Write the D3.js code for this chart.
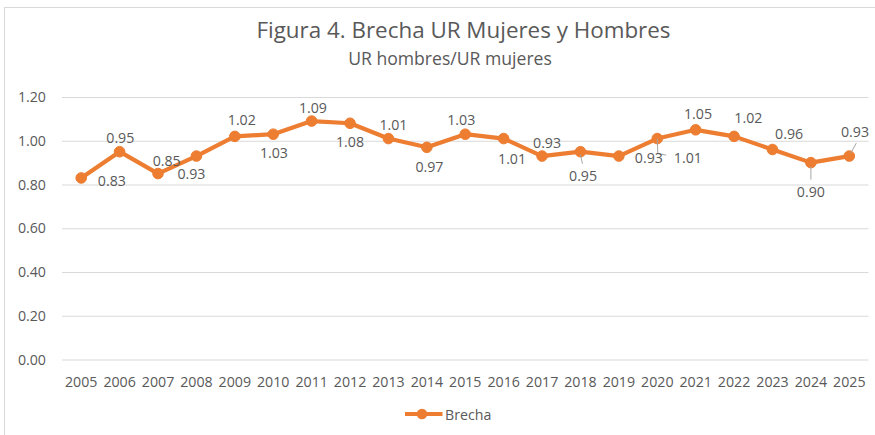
<!DOCTYPE html>
<html>
<head>
<meta charset="utf-8">
<script src="https://cdn.jsdelivr.net/npm/d3@7"></script>
<style>
  html, body { margin: 0; padding: 0; background: #ffffff; }
  svg { display: block; }
  text { font-family: "Open Sans", sans-serif; fill: #595959; }
</style>
</head>
<body>
<svg id="chart" width="875" height="435"></svg>
<script>
// ---- data ----
const years = ["2005","2006","2007","2008","2009","2010","2011","2012","2013","2014","2015",
               "2016","2017","2018","2019","2020","2021","2022","2023","2024","2025"];
const brecha = [0.83,0.95,0.85,0.93,1.02,1.03,1.09,1.08,1.01,0.97,1.03,
                1.01,0.93,0.95,0.93,1.01,1.05,1.02,0.96,0.90,0.93];
const yTicks = [0, 0.2, 0.4, 0.6, 0.8, 1.0, 1.2];
const seriesName = "Brecha";
const titleText = "Figura 4. Brecha UR Mujeres y Hombres";
const subtitleText = "UR hombres/UR mujeres";

// ---- layout (label placement offsets, px, relative to point) ----
const labelDx = [30.7,0.7,8.7,-5,7,0.7,1.3,0,5,2.6,-4,8.4,5,2.6,30,30.6,2.3,14.3,16.6,0,5.7];
const labelDy = [2.7,-13.3,-12.3,17.6,-16.7,19,-13.3,19,-13.3,20,-14.3,20,-12.7,24.3,2.3,19,-15.7,-18.3,-15.7,29,-24];
const leaders = {
  13: [[0,3],[2,12]],
  15: [[0,0],[0.5,15],[9,16.5]],
  19: [[0,4],[0,17]],
  20: [[1.5,-3],[7,-13]]
};

const ORANGE = "#ED7D31";
const GRID = "#D9D9D9";
const svg = d3.select("#chart");

// frame
svg.append("rect").attr("x", 4.5).attr("y", 7.5).attr("width", 900).attr("height", 500)
  .attr("fill", "#fff").attr("stroke", "#D9D9D9").attr("stroke-width", 1);

const plot = { left: 62, right: 868.5, top: 97, bottom: 359.5 };

const x = d3.scaleBand().domain(years).range([plot.left, plot.right]).padding(0);
const y = d3.scaleLinear().domain([0, 1.2]).range([plot.bottom, plot.top]);
const cx = d => x(d) + x.bandwidth() / 2;

// title
svg.append("text").attr("x", 463.5).attr("y", 38).attr("text-anchor", "middle")
  .style("font-size", "22.4px").text(titleText);
svg.append("text").attr("x", 450).attr("y", 64.5).attr("text-anchor", "middle")
  .style("font-size", "17.6px").text(subtitleText);

// y axis (gridlines + labels)
const yAxis = d3.axisLeft(y).tickValues(yTicks).tickFormat(d3.format(".2f"))
  .tickSize(-(plot.right - plot.left)).tickPadding(16);
const gy = svg.append("g").attr("transform", `translate(${plot.left},0)`).call(yAxis);
gy.select(".domain").remove();
gy.selectAll(".tick line").attr("stroke", GRID).attr("stroke-width", 1);
gy.selectAll(".tick text").style("font-size", "14.2px").attr("fill", "#595959")
  .attr("font-family", "Open Sans");

// x axis labels
const xAxis = d3.axisBottom(x).tickSize(0).tickPadding(17);
const gx = svg.append("g").attr("transform", `translate(0,${plot.bottom})`).call(xAxis);
gx.select(".domain").remove();
gx.selectAll(".tick text").style("font-size", "14.2px").attr("fill", "#595959")
  .attr("font-family", "Open Sans");

// line
const line = d3.line().x((d, i) => cx(years[i])).y(d => y(d));
svg.append("path").datum(brecha).attr("d", line)
  .attr("fill", "none").attr("stroke", ORANGE).attr("stroke-width", 4.2)
  .attr("stroke-linejoin", "round").attr("stroke-linecap", "round");

// markers
svg.append("g").selectAll("circle").data(brecha).join("circle")
  .attr("cx", (d, i) => cx(years[i])).attr("cy", d => y(d)).attr("r", 5.3)
  .attr("fill", ORANGE).attr("stroke", ORANGE).attr("stroke-width", 1);

// leader lines
Object.entries(leaders).forEach(([k, pts]) => {
  const i = +k;
  const px = cx(years[i]), py = y(brecha[i]);
  svg.append("path")
    .attr("d", d3.line()(pts.map(p => [px + p[0], py + p[1]])))
    .attr("fill", "none").attr("stroke", "#A6A6A6").attr("stroke-width", 1);
});

// data labels
svg.append("g").selectAll("text").data(brecha).join("text")
  .attr("x", (d, i) => cx(years[i]) + labelDx[i])
  .attr("y", (d, i) => y(d) + labelDy[i] + 5)
  .attr("text-anchor", "middle")
  .style("font-size", "14.2px")
  .text(d => d3.format(".2f")(d));

// legend
const lg = svg.append("g").attr("transform", "translate(405,414)");
lg.append("line").attr("x1", 0).attr("x2", 37.5).attr("y1", 0).attr("y2", 0)
  .attr("stroke", ORANGE).attr("stroke-width", 4.2);
lg.append("circle").attr("cx", 17).attr("cy", 0).attr("r", 5.3).attr("fill", ORANGE);
lg.append("text").attr("x", 40).attr("y", 5.5).style("font-size", "14.2px").text(seriesName);
</script>
</body>
</html>
